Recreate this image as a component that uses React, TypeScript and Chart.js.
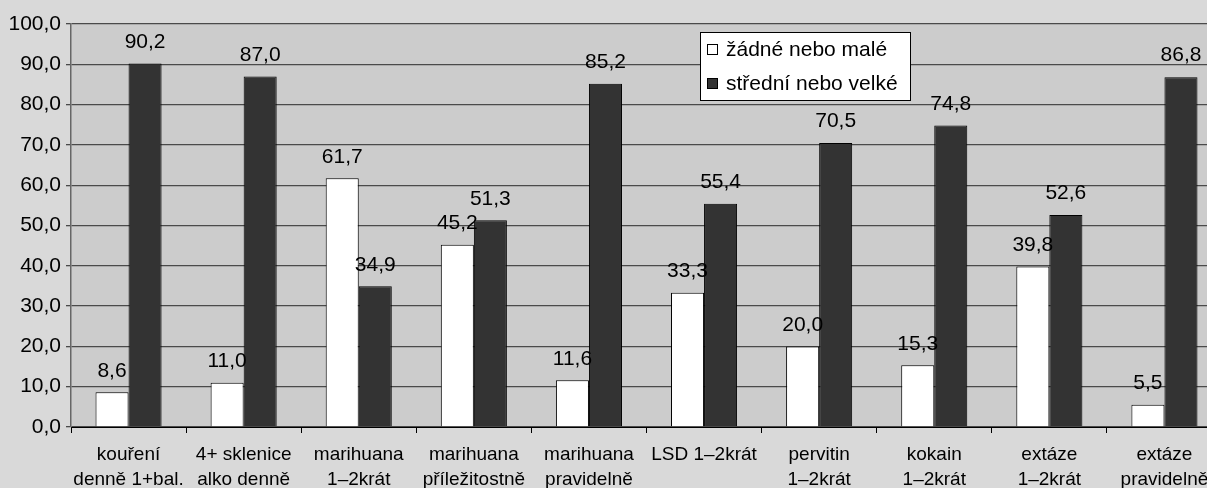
import React, { useEffect, useRef } from "react";
import { Chart, registerables } from "chart.js";

Chart.register(...registerables);

const categories: (string | string[])[] = [
  ["kouření", "denně 1+bal."],
  ["4+ sklenice", "alko denně"],
  ["marihuana", "1–2krát"],
  ["marihuana", "příležitostně"],
  ["marihuana", "pravidelně"],
  "LSD 1–2krát",
  ["pervitin", "1–2krát"],
  ["kokain", "1–2krát"],
  ["extáze", "1–2krát"],
  ["extáze", "pravidelně"],
];

const lowLabel = "žádné nebo malé";
const highLabel = "střední nebo velké";
const lowValues = [8.6, 11.0, 61.7, 45.2, 11.6, 33.3, 20.0, 15.3, 39.8, 5.5];
const highValues = [90.2, 87.0, 34.9, 51.3, 85.2, 55.4, 70.5, 74.8, 52.6, 86.8];

const yMin = 0;
const yMax = 100;
const yStep = 10;

const fmt = (v: number) => v.toFixed(1).replace(".", ",");

function pickNarrowFont(): { family: string; size: number } {
  try {
    const c = document.createElement("canvas").getContext("2d");
    if (c) {
      const s = "marihuana příležitostně";
      c.font = "21px monospace";
      const w1 = c.measureText(s).width;
      c.font = '21px "Liberation Sans Narrow", monospace';
      const w2 = c.measureText(s).width;
      if (Math.abs(w1 - w2) > 0.5) return { family: '"Liberation Sans Narrow"', size: 21 };
    }
  } catch (e) {}
  return { family: '"Liberation Sans"', size: 19 };
}

const plotBgPlugin = {
  id: "plotBg",
  beforeDraw(chart: any) {
    const { ctx, chartArea } = chart;
    ctx.save();
    ctx.fillStyle = "#cccccc";
    ctx.fillRect(chartArea.left, chartArea.top, chartArea.right - chartArea.left, chartArea.bottom - chartArea.top);
    ctx.restore();
  },
};

const dataLabelPlugin = {
  id: "dataLabels",
  afterDatasetsDraw(chart: any) {
    const ctx = chart.ctx;
    ctx.save();
    ctx.font = '21px "Liberation Sans", Arial, sans-serif';
    ctx.fillStyle = "#000";
    ctx.textAlign = "center";
    ctx.textBaseline = "bottom";
    chart.data.datasets.forEach((ds: any, i: number) => {
      const meta = chart.getDatasetMeta(i);
      meta.data.forEach((el: any, j: number) => {
        ctx.fillText(fmt(ds.data[j]), el.x, el.y - 11);
      });
    });
    ctx.restore();
  },
};

const legendPlugin = {
  id: "boxLegend",
  afterDraw(chart: any) {
    const ctx = chart.ctx;
    const x = 700;
    const y = 32;
    const w = 210;
    const h = 68;
    ctx.save();
    ctx.fillStyle = "#ffffff";
    ctx.fillRect(x, y, w, h);
    ctx.strokeStyle = "#000";
    ctx.lineWidth = 1;
    ctx.strokeRect(x + 0.5, y + 0.5, w, h);
    ctx.font = '21px "Liberation Sans", Arial, sans-serif';
    ctx.textBaseline = "middle";
    ctx.textAlign = "left";
    chart.data.datasets.forEach((ds: any, i: number) => {
      const cy = y + 17 + i * 34;
      ctx.fillStyle = ds.backgroundColor;
      ctx.fillRect(x + 7, cy - 5, 11, 11);
      ctx.strokeStyle = "#000";
      ctx.strokeRect(x + 7.5, cy - 4.5, 10, 10);
      ctx.fillStyle = "#000";
      ctx.fillText(ds.label, x + 26, cy + 1);
    });
    ctx.restore();
  },
};

export default function App() {
  const ref = useRef<HTMLCanvasElement | null>(null);

  useEffect(() => {
    if (!ref.current) return;
    const xf = pickNarrowFont();
    const chart = new Chart(ref.current, {
      type: "bar",
      data: {
        labels: categories,
        datasets: [
          {
            label: lowLabel,
            data: lowValues,
            backgroundColor: "#ffffff",
            borderColor: "#000000",
            borderWidth: 1,
            barPercentage: 1,
            categoryPercentage: 0.574,
          },
          {
            label: highLabel,
            data: highValues,
            backgroundColor: "#333333",
            borderColor: "#000000",
            borderWidth: 1,
            barPercentage: 1,
            categoryPercentage: 0.574,
          },
        ],
      },
      options: {
        responsive: false,
        animation: false,
        layout: { padding: { top: 24, right: 8, left: 0, bottom: 0 } },
        plugins: {
          legend: { display: false },
          tooltip: { enabled: false },
          title: { display: false },
        },
        scales: {
          x: {
            offset: true,
            grid: {
              offset: true,
              drawOnChartArea: false,
              drawTicks: true,
              tickLength: 6,
              color: "#000",
            },
            border: { color: "#000", width: 1 },
            ticks: {
              color: "#000",
              maxRotation: 0,
              minRotation: 0,
              autoSkip: false,
              padding: 9,
              font: { family: xf.family, size: xf.size, lineHeight: 25 / xf.size },
            },
            afterFit(scale: any) {
              scale.height = 61;
            },
          },
          y: {
            min: yMin,
            max: yMax,
            ticks: {
              stepSize: yStep,
              color: "#000",
              padding: 5,
              font: { family: '"Liberation Sans", Arial, sans-serif', size: 21 },
              callback: (v: any) => fmt(Number(v)),
            },
            grid: {
              color: "#4a4a4a",
              lineWidth: 1.3,
              drawTicks: true,
              tickLength: 5,
            },
            border: { color: "#666666", width: 1.5 },
            afterFit(scale: any) {
              scale.width = 71;
            },
          },
        },
      },
      plugins: [plotBgPlugin, dataLabelPlugin, legendPlugin],
    } as any);
    return () => chart.destroy();
  }, []);

  return (
    <div
      style={{
        position: "fixed",
        left: 0,
        top: 0,
        width: 1207,
        height: 488,
        overflow: "hidden",
        background: "#d9d9d9",
      }}
    >
      <canvas ref={ref} width={1230} height={488} style={{ display: "block" }} />
    </div>
  );
}
